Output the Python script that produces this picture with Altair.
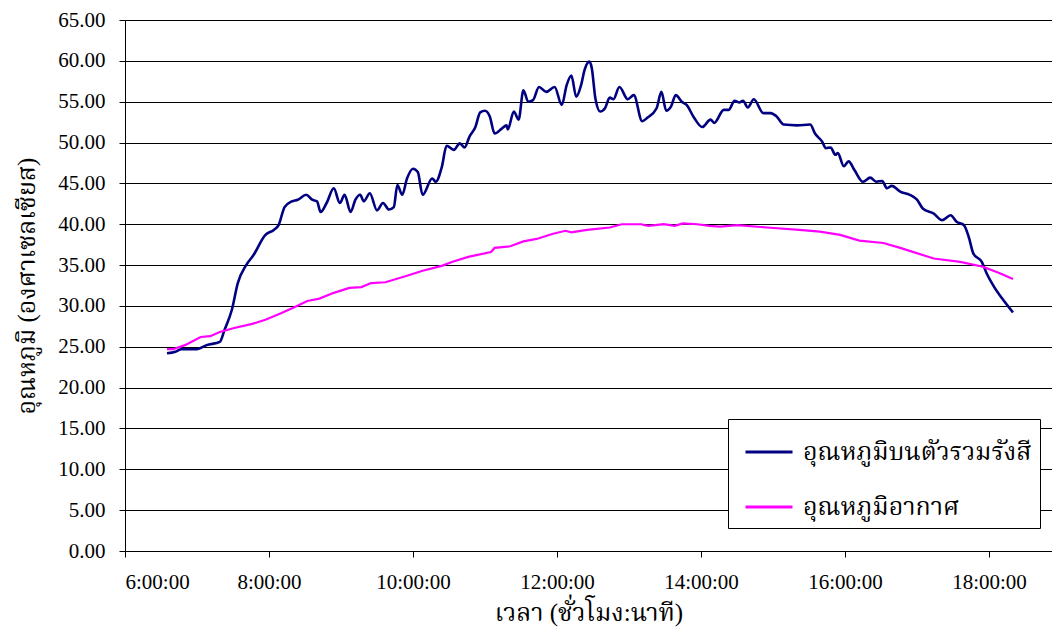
import altair as alt
import pandas as pd

# Temperature on the radiator body (navy) and ambient air temperature (magenta)
blue_times = ["6:35", "6:42", "6:47", "7:00", "7:08", "7:19", "7:23", "7:29", "7:34", "7:41",
              "7:47", "7:57", "8:04", "8:08", "8:13", "8:19", "8:24", "8:31", "8:36", "8:40",
              "8:43", "8:48", "8:54", "8:59", "9:03", "9:08", "9:12", "9:16", "9:19", "9:24",
              "9:30", "9:35", "9:40", "9:44", "9:47", "9:51", "9:55", "10:00", "10:04", "10:08",
              "10:16", "10:19", "10:24", "10:28", "10:34", "10:39", "10:43", "10:47", "10:52", "10:56",
              "11:00", "11:04", "11:08", "11:14", "11:18", "11:19", "11:24", "11:28", "11:32", "11:36",
              "11:40", "11:45", "11:51", "11:58", "12:04", "12:08", "12:12", "12:16", "12:20", "12:23",
              "12:27", "12:29", "12:32", "12:36", "12:40", "12:44", "12:47", "12:52", "12:59", "13:04",
              "13:11", "13:15", "13:23", "13:27", "13:31", "13:35", "13:39", "13:44", "13:48", "13:54",
              "14:01", "14:08", "14:11", "14:19", "14:23", "14:28", "14:32", "14:35", "14:39", "14:44",
              "14:52", "14:58", "15:03", "15:09", "15:20", "15:31", "15:35", "15:41", "15:44", "15:48",
              "15:52", "15:54", "15:59", "16:03", "16:08", "16:15", "16:21", "16:26", "16:31", "16:35",
              "16:39", "16:46", "16:54", "17:00", "17:05", "17:14", "17:21", "17:28", "17:33", "17:39",
              "17:43", "17:47", "17:54", "17:58", "18:04", "18:11", "18:20"]
blue_vals = [24.2, 24.4, 24.7, 24.7, 25.2, 25.6, 27.1, 29.5, 32.8, 35.0,
             36.2, 38.7, 39.3, 39.9, 42.1, 42.8, 43.0, 43.6, 43.0, 42.8,
             41.5, 42.6, 44.4, 42.6, 43.6, 41.5, 43.0, 43.6, 42.8, 43.8,
             41.7, 42.6, 41.8, 42.1, 44.8, 43.6, 45.6, 46.8, 46.4, 43.6,
             45.6, 45.2, 47.0, 49.6, 49.1, 49.9, 49.4, 50.7, 51.9, 53.7,
             53.9, 53.2, 51.1, 51.7, 52.1, 51.6, 53.8, 52.8, 56.4, 55.0,
             55.2, 56.8, 56.2, 56.8, 54.6, 57.0, 58.2, 55.6, 57.0, 58.9,
             59.9, 59.1, 55.4, 53.8, 54.2, 55.5, 55.3, 56.8, 55.3, 55.8,
             52.6, 53.0, 54.2, 56.2, 53.9, 54.4, 55.8, 55.0, 54.6, 53.1,
             51.9, 52.8, 52.4, 54.0, 54.0, 55.1, 54.9, 55.1, 54.3, 55.3,
             53.6, 53.6, 53.2, 52.2, 52.1, 52.2, 51.1, 50.1, 49.3, 49.4,
             48.5, 48.7, 47.1, 47.7, 46.6, 45.2, 45.7, 45.2, 45.3, 44.4,
             44.7, 44.0, 43.6, 43.0, 41.9, 41.3, 40.5, 41.1, 40.3, 39.9,
             38.5, 36.4, 35.4, 34.0, 32.4, 30.9, 29.2]

pink_times = ["6:35", "6:40", "6:50", "7:03", "7:11", "7:19", "7:31", "7:46", "7:57", "8:10",
              "8:22", "8:32", "8:42", "8:54", "9:07", "9:17", "9:25", "9:37", "9:55", "10:08",
              "10:24", "10:33", "10:46", "11:05", "11:08", "11:21", "11:32", "11:43", "11:56", "12:07",
              "12:12", "12:25", "12:44", "12:54", "13:10", "13:16", "13:29", "13:38", "13:45", "13:57",
              "14:07", "14:16", "14:30", "14:55", "15:22", "15:39", "15:56", "16:12", "16:32", "16:46",
              "17:14", "17:36", "17:55", "18:09", "18:20"]
pink_vals = [24.7, 24.7, 25.2, 26.2, 26.3, 26.8, 27.3, 27.8, 28.3, 29.1,
             29.9, 30.6, 30.9, 31.6, 32.2, 32.3, 32.8, 32.9, 33.7, 34.3,
             34.9, 35.4, 36.0, 36.6, 37.1, 37.3, 37.9, 38.2, 38.8, 39.2,
             39.0, 39.3, 39.6, 40.0, 40.0, 39.8, 40.0, 39.8, 40.1, 40.0,
             39.8, 39.7, 39.9, 39.6, 39.3, 39.1, 38.7, 38.0, 37.7, 37.1,
             35.8, 35.4, 34.8, 34.0, 33.3]

series_names = ["อุณหภูมิบนตัวรวมรังสี", "อุณหภูมิอากาศ"]
series_colors = ["#000080", "#FF00FF"]
x_ticks = [6, 8, 10, 12, 14, 16, 18]
y_ticks = list(range(0, 70, 5))


def to_hours(t):
    h, m = t.split(":")
    return int(h) + int(m) / 60.0


blue_df = pd.DataFrame({"hour": [to_hours(t) for t in blue_times],
                        "temp": blue_vals, "series": series_names[0]})
pink_df = pd.DataFrame({"hour": [to_hours(t) for t in pink_times],
                        "temp": pink_vals, "series": series_names[1]})

NUM_FONT = "Liberation Serif"
THAI_FONT = "Liberation Serif, Noto Serif Thai, Noto Sans Thai, Loma, Garuda, serif"

x_enc = alt.X("hour:Q",
              scale=alt.Scale(domain=[6, 18.875], nice=False, zero=False),
              axis=alt.Axis(values=x_ticks, labelExpr="datum.value + ':00:00'",
                            grid=False, tickSize=6, labelPadding=14,
                            title="เวลา (ชั่วโมง:นาที)", titlePadding=8))
y_enc = alt.Y("temp:Q",
              scale=alt.Scale(domain=[0, 65], nice=False),
              axis=alt.Axis(values=y_ticks, format=".2f", grid=True, tickSize=6,
                            labelPadding=14, title="อุณหภูมิ (องศาเซลเซียส)",
                            titlePadding=18))
color_enc = alt.Color("series:N",
                      scale=alt.Scale(domain=series_names, range=series_colors),
                      legend=alt.Legend(title=None, orient="none", legendX=603, legendY=399,
                                        symbolType="stroke", symbolSize=2209,
                                        symbolStrokeWidth=3, symbolOffset=8,
                                        labelOffset=9, padding=8, rowPadding=17,
                                        strokeColor="#000000", fillColor="#FFFFFF",
                                        labelFont=THAI_FONT, labelFontSize=25,
                                        labelColor="#000000", labelLimit=400))

blue_line = alt.Chart(blue_df).mark_line(strokeWidth=2.6, interpolate="monotone").encode(
    x=x_enc, y=y_enc, color=color_enc)
pink_line = alt.Chart(pink_df).mark_line(strokeWidth=2.2).encode(
    x=x_enc, y=y_enc, color=color_enc)

chart = alt.layer(blue_line, pink_line).properties(
    width=927, height=531,
    autosize=alt.AutoSizeParams(type="none"),
    padding={"left": 125, "top": 20, "right": 0, "bottom": 83},
    background="#FFFFFF",
).configure_view(stroke=None).configure_axis(
    domainColor="#000000", tickColor="#000000", gridColor="#000000", gridWidth=1,
    labelFont=NUM_FONT, labelFontSize=21, labelColor="#000000",
    titleFont=THAI_FONT, titleFontSize=25, titleFontWeight="normal", titleColor="#000000",
)

chart.save("out.html", embed_options={"renderer": "svg", "actions": False})
